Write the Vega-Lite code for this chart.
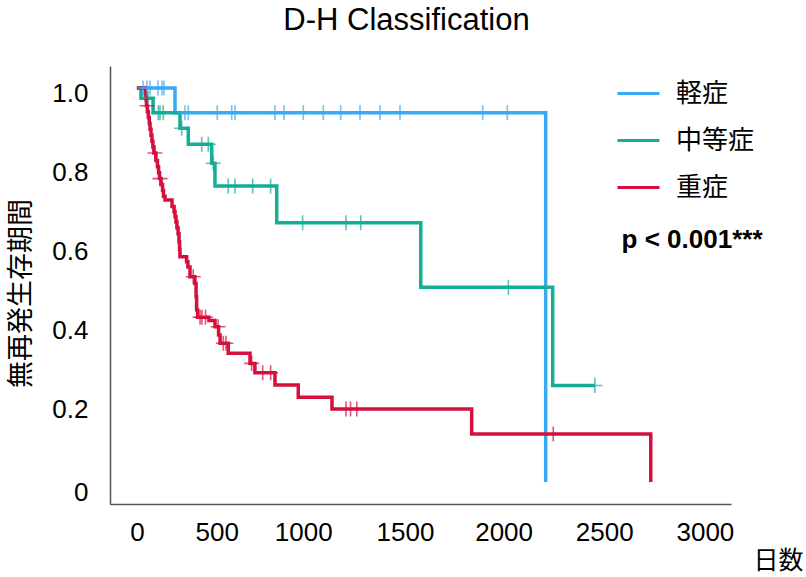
{
  "$schema": "https://vega.github.io/schema/vega-lite/v6.json",
  "width": 621,
  "height": 438,
  "autosize": "none",
  "padding": {"left": 110, "top": 66, "right": 75, "bottom": 73},
  "background": "white",
  "config": {"view": {"stroke": null}, "font": "Liberation Sans"},
  "title": {"text": "D-H Classification", "fontSize": 31, "font": "Liberation Sans", "fontWeight": "normal", "anchor": "middle", "frame": "group", "baseline": "alphabetic", "offset": 5, "dx": -14, "color": "#000"},
  "datasets": {
    "km": [
      {"g": "軽症", "k": "step", "t": 0, "s": 1},
      {"g": "軽症", "k": "step", "t": 200.7, "s": 0.937},
      {"g": "軽症", "k": "step", "t": 2159, "s": 0},
      {"g": "軽症", "k": "censor", "t": 31.7, "s": 1},
      {"g": "軽症", "k": "censor", "t": 52.8, "s": 1},
      {"g": "軽症", "k": "censor", "t": 68.7, "s": 1},
      {"g": "軽症", "k": "censor", "t": 110.9, "s": 1},
      {"g": "軽症", "k": "censor", "t": 132.1, "s": 1},
      {"g": "軽症", "k": "censor", "t": 142.6, "s": 1},
      {"g": "軽症", "k": "censor", "t": 253.6, "s": 0.937},
      {"g": "軽症", "k": "censor", "t": 271, "s": 0.937},
      {"g": "軽症", "k": "censor", "t": 424.2, "s": 0.937},
      {"g": "軽症", "k": "censor", "t": 500.3, "s": 0.937},
      {"g": "軽症", "k": "censor", "t": 517.7, "s": 0.937},
      {"g": "軽症", "k": "censor", "t": 729, "s": 0.937},
      {"g": "軽症", "k": "censor", "t": 776.5, "s": 0.937},
      {"g": "軽症", "k": "censor", "t": 878.5, "s": 0.937},
      {"g": "軽症", "k": "censor", "t": 984.2, "s": 0.937},
      {"g": "軽症", "k": "censor", "t": 1076.1, "s": 0.937},
      {"g": "軽症", "k": "censor", "t": 1178, "s": 0.937},
      {"g": "軽症", "k": "censor", "t": 1283.7, "s": 0.937},
      {"g": "軽症", "k": "censor", "t": 1389.3, "s": 0.937},
      {"g": "軽症", "k": "censor", "t": 1826.2, "s": 0.937},
      {"g": "軽症", "k": "censor", "t": 1956.2, "s": 0.937},
      {"g": "中等症", "k": "step", "t": 0, "s": 1},
      {"g": "中等症", "k": "step", "t": 21, "s": 0.974},
      {"g": "中等症", "k": "step", "t": 85, "s": 0.937},
      {"g": "中等症", "k": "step", "t": 227, "s": 0.898},
      {"g": "中等症", "k": "step", "t": 271, "s": 0.857},
      {"g": "中等症", "k": "step", "t": 394.6, "s": 0.809},
      {"g": "中等症", "k": "step", "t": 412, "s": 0.751},
      {"g": "中等症", "k": "step", "t": 738, "s": 0.658},
      {"g": "中等症", "k": "step", "t": 1499, "s": 0.494},
      {"g": "中等症", "k": "step", "t": 2196, "s": 0.245},
      {"g": "中等症", "k": "step", "t": 2419, "s": 0.245},
      {"g": "中等症", "k": "censor", "t": 58, "s": 0.974},
      {"g": "中等症", "k": "censor", "t": 112.5, "s": 0.937},
      {"g": "中等症", "k": "censor", "t": 121.5, "s": 0.937},
      {"g": "中等症", "k": "censor", "t": 139, "s": 0.937},
      {"g": "中等症", "k": "censor", "t": 236, "s": 0.898},
      {"g": "中等症", "k": "censor", "t": 341.8, "s": 0.857},
      {"g": "中等症", "k": "censor", "t": 376.7, "s": 0.857},
      {"g": "中等症", "k": "censor", "t": 403, "s": 0.809},
      {"g": "中等症", "k": "censor", "t": 482, "s": 0.751},
      {"g": "中等症", "k": "censor", "t": 518, "s": 0.751},
      {"g": "中等症", "k": "censor", "t": 611, "s": 0.751},
      {"g": "中等症", "k": "censor", "t": 706, "s": 0.751},
      {"g": "中等症", "k": "censor", "t": 875, "s": 0.658},
      {"g": "中等症", "k": "censor", "t": 1104, "s": 0.658},
      {"g": "中等症", "k": "censor", "t": 1182, "s": 0.658},
      {"g": "中等症", "k": "censor", "t": 1962, "s": 0.494},
      {"g": "中等症", "k": "censor", "t": 2419, "s": 0.245},
      {"g": "重症", "k": "step", "t": 0, "s": 1},
      {"g": "重症", "k": "step", "t": 44, "s": 0.985},
      {"g": "重症", "k": "step", "t": 48, "s": 0.97},
      {"g": "重症", "k": "step", "t": 50, "s": 0.955},
      {"g": "重症", "k": "step", "t": 55, "s": 0.94},
      {"g": "重症", "k": "step", "t": 60, "s": 0.925},
      {"g": "重症", "k": "step", "t": 65, "s": 0.91},
      {"g": "重症", "k": "step", "t": 69, "s": 0.895},
      {"g": "重症", "k": "step", "t": 74, "s": 0.88},
      {"g": "重症", "k": "step", "t": 79, "s": 0.865},
      {"g": "重症", "k": "step", "t": 84, "s": 0.85},
      {"g": "重症", "k": "step", "t": 89, "s": 0.835},
      {"g": "重症", "k": "step", "t": 100, "s": 0.816},
      {"g": "重症", "k": "step", "t": 108, "s": 0.8},
      {"g": "重症", "k": "step", "t": 114, "s": 0.785},
      {"g": "重症", "k": "step", "t": 119, "s": 0.77},
      {"g": "重症", "k": "step", "t": 127, "s": 0.755},
      {"g": "重症", "k": "step", "t": 135, "s": 0.74},
      {"g": "重症", "k": "step", "t": 140, "s": 0.725},
      {"g": "重症", "k": "step", "t": 148, "s": 0.716},
      {"g": "重症", "k": "step", "t": 185, "s": 0.699},
      {"g": "重症", "k": "step", "t": 196, "s": 0.686},
      {"g": "重症", "k": "step", "t": 201, "s": 0.673},
      {"g": "重症", "k": "step", "t": 206, "s": 0.66},
      {"g": "重症", "k": "step", "t": 211, "s": 0.645},
      {"g": "重症", "k": "step", "t": 217, "s": 0.63},
      {"g": "重症", "k": "step", "t": 222, "s": 0.61},
      {"g": "重症", "k": "step", "t": 225, "s": 0.59},
      {"g": "重症", "k": "step", "t": 227, "s": 0.572},
      {"g": "重症", "k": "step", "t": 262, "s": 0.559},
      {"g": "重症", "k": "step", "t": 269, "s": 0.546},
      {"g": "重症", "k": "step", "t": 280, "s": 0.521},
      {"g": "重症", "k": "step", "t": 306, "s": 0.504},
      {"g": "重症", "k": "step", "t": 312, "s": 0.47},
      {"g": "重症", "k": "step", "t": 315, "s": 0.437},
      {"g": "重症", "k": "step", "t": 320, "s": 0.418},
      {"g": "重症", "k": "step", "t": 380, "s": 0.41},
      {"g": "重症", "k": "step", "t": 412, "s": 0.394},
      {"g": "重症", "k": "step", "t": 431, "s": 0.373},
      {"g": "重症", "k": "step", "t": 439, "s": 0.352},
      {"g": "重症", "k": "step", "t": 482, "s": 0.327},
      {"g": "重症", "k": "step", "t": 597, "s": 0.301},
      {"g": "重症", "k": "step", "t": 623, "s": 0.277},
      {"g": "重症", "k": "step", "t": 729, "s": 0.246},
      {"g": "重症", "k": "step", "t": 852, "s": 0.215},
      {"g": "重症", "k": "step", "t": 1030, "s": 0.185},
      {"g": "重症", "k": "step", "t": 1768, "s": 0.122},
      {"g": "重症", "k": "step", "t": 2714, "s": 0},
      {"g": "重症", "k": "censor", "t": 53, "s": 0.955},
      {"g": "重症", "k": "censor", "t": 95, "s": 0.835},
      {"g": "重症", "k": "censor", "t": 121, "s": 0.77},
      {"g": "重症", "k": "censor", "t": 297, "s": 0.521},
      {"g": "重症", "k": "censor", "t": 333, "s": 0.418},
      {"g": "重症", "k": "censor", "t": 343, "s": 0.418},
      {"g": "重症", "k": "censor", "t": 362, "s": 0.418},
      {"g": "重症", "k": "censor", "t": 428, "s": 0.394},
      {"g": "重症", "k": "censor", "t": 456, "s": 0.352},
      {"g": "重症", "k": "censor", "t": 470, "s": 0.352},
      {"g": "重症", "k": "censor", "t": 606, "s": 0.301},
      {"g": "重症", "k": "censor", "t": 664, "s": 0.277},
      {"g": "重症", "k": "censor", "t": 706, "s": 0.277},
      {"g": "重症", "k": "censor", "t": 1104, "s": 0.185},
      {"g": "重症", "k": "censor", "t": 1128, "s": 0.185},
      {"g": "重症", "k": "censor", "t": 1161, "s": 0.185},
      {"g": "重症", "k": "censor", "t": 2199, "s": 0.122}
    ],
    "note": [{"label": "p < 0.001***"}]
  },
  "layer": [
    {
      "data": {"name": "km"},
      "transform": [{"filter": "datum.k == 'step'"}],
      "mark": {"type": "line", "interpolate": "step-after", "strokeWidth": 3.5},
      "encoding": {
        "x": {
          "field": "t", "type": "quantitative",
          "scale": {"domain": [-142.6, 3137.9], "nice": false, "zero": false},
          "axis": {
            "values": [0, 500, 1000, 1500, 2000, 2500, 3000],
            "format": "d",
            "grid": false, "ticks": false,
            "domainColor": "#555", "domainWidth": 1.5,
            "labelFont": "Liberation Sans", "labelFontSize": 26, "labelColor": "#000",
            "labelPadding": 15, "labelFlush": false, "labelOverlap": false,
            "labelOffset": {"condition": [
              {"test": "datum.value == 500", "value": -15},
              {"test": "datum.value == 1000", "value": -23},
              {"test": "datum.value == 1500", "value": -16},
              {"test": "datum.value == 2000", "value": -12},
              {"test": "datum.value == 2500", "value": -6}
            ], "value": 0},
            "title": "日数", "titleFont": "Noto Sans CJK JP", "titleFontSize": 25, "titleFontWeight": "normal", "titleColor": "#000",
            "titleX": 668, "titleY": 56, "titleAlign": "center", "titleBaseline": "middle"
          }
        },
        "y": {
          "field": "s", "type": "quantitative",
          "scale": {"domain": [-0.0558, 1.0558], "nice": false, "zero": false},
          "axis": {
            "values": [0, 0.2, 0.4, 0.6, 0.8, 1],
            "labelExpr": "datum.value == 0 ? '0' : format(datum.value, '.1f')",
            "grid": false, "ticks": false,
            "domainColor": "#555", "domainWidth": 1.5,
            "labelFont": "Liberation Sans", "labelFontSize": 26, "labelColor": "#000",
            "labelPadding": 22,
            "labelOffset": {"condition": {"test": "datum.value == 0", "value": 10}, "value": 6},
            "title": "無再発生存期間", "titleFont": "Noto Sans CJK JP", "titleFontSize": 27, "titleFontWeight": "normal", "titleColor": "#000",
            "titleX": -89, "titleY": 227, "titleAlign": "center", "titleBaseline": "middle", "titleAngle": -90
          }
        },
        "color": {
          "field": "g", "type": "nominal",
          "scale": {"domain": ["軽症", "中等症", "重症"], "range": ["#38a9f3", "#15ad96", "#d5103d"]},
          "legend": {
            "orient": "none", "legendX": 506, "legendY": 5, "title": null,
            "symbolType": "stroke", "symbolSize": 1764, "symbolStrokeWidth": 3,
            "labelFont": "Noto Sans CJK JP", "labelFontSize": 26, "labelColor": "#000",
            "labelOffset": 15, "rowPadding": 11, "padding": 0
          }
        }
      }
    },
    {
      "data": {"name": "km"},
      "transform": [{"filter": "datum.k == 'censor'"}],
      "mark": {"type": "point", "shape": "M-1,0H1M0,-1V1", "filled": false, "size": 225, "strokeWidth": 1.6, "opacity": 0.7},
      "encoding": {
        "x": {"field": "t", "type": "quantitative"},
        "y": {"field": "s", "type": "quantitative"},
        "color": {"field": "g", "type": "nominal", "legend": null}
      }
    },
    {
      "data": {"name": "note"},
      "mark": {"type": "text", "font": "Liberation Sans", "fontSize": 26, "fontWeight": "bold", "align": "left", "baseline": "middle", "color": "#000"},
      "encoding": {
        "x": {"datum": 2560, "type": "quantitative"},
        "y": {"datum": 0.614, "type": "quantitative"},
        "text": {"field": "label"}
      }
    }
  ]
}
